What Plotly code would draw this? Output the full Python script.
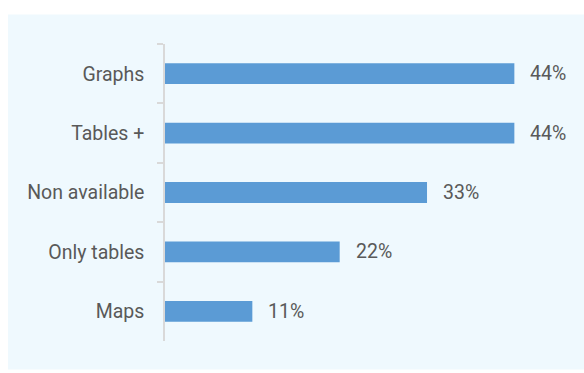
import plotly.graph_objects as go

categories = ["Graphs", "Tables +", "Non available", "Only tables", "Maps"]
values = [44, 44, 33, 22, 11]
labels = ["44%", "44%", "33%", "22%", "11%"]

W, H = 584, 373
L, T, B, R = 165, 43.5, 31.5, 21
px_per_unit = 7.94
xmax = (W - L - R) / px_per_unit
FONT = "Roboto"
TXT = "#595959"
FS = 19.5

fig = go.Figure(go.Bar(
    y=categories, x=values, orientation="h",
    marker=dict(color="#5B9BD5", line=dict(width=0)),
    width=0.35,
))

for c, v, lab in zip(categories, values, labels):
    fig.add_annotation(x=v, y=c, text=lab, showarrow=False,
                       xanchor="left", xshift=14,
                       font=dict(family=FONT, size=FS, color=TXT))

fig.update_layout(
    width=W, height=H,
    margin=dict(l=L, r=R, t=T, b=B),
    paper_bgcolor="white", plot_bgcolor="rgba(0,0,0,0)",
    showlegend=False,
    shapes=[dict(type="rect", xref="paper", yref="paper", layer="below",
                 x0=(8 - L) / (W - L - R), x1=(W - L) / (W - L - R),
                 y0=-(370 - (H - B)) / (H - T - B), y1=1 + (T - 14) / (H - T - B),
                 fillcolor="#EFF9FE", line=dict(width=0))],
    xaxis=dict(range=[0, xmax], visible=False, fixedrange=True),
    yaxis=dict(autorange="reversed", type="category", tickson="boundaries",
               ticks="outside", ticklen=6, tickcolor="#D9D9D9", tickwidth=1.5,
               showline=True, linecolor="#D9D9D9", linewidth=1.5,
               showgrid=False, ticklabelstandoff=15,
               tickfont=dict(family=FONT, size=FS, color=TXT)),
    font=dict(family=FONT),
)
fig.write_html("out.html")
